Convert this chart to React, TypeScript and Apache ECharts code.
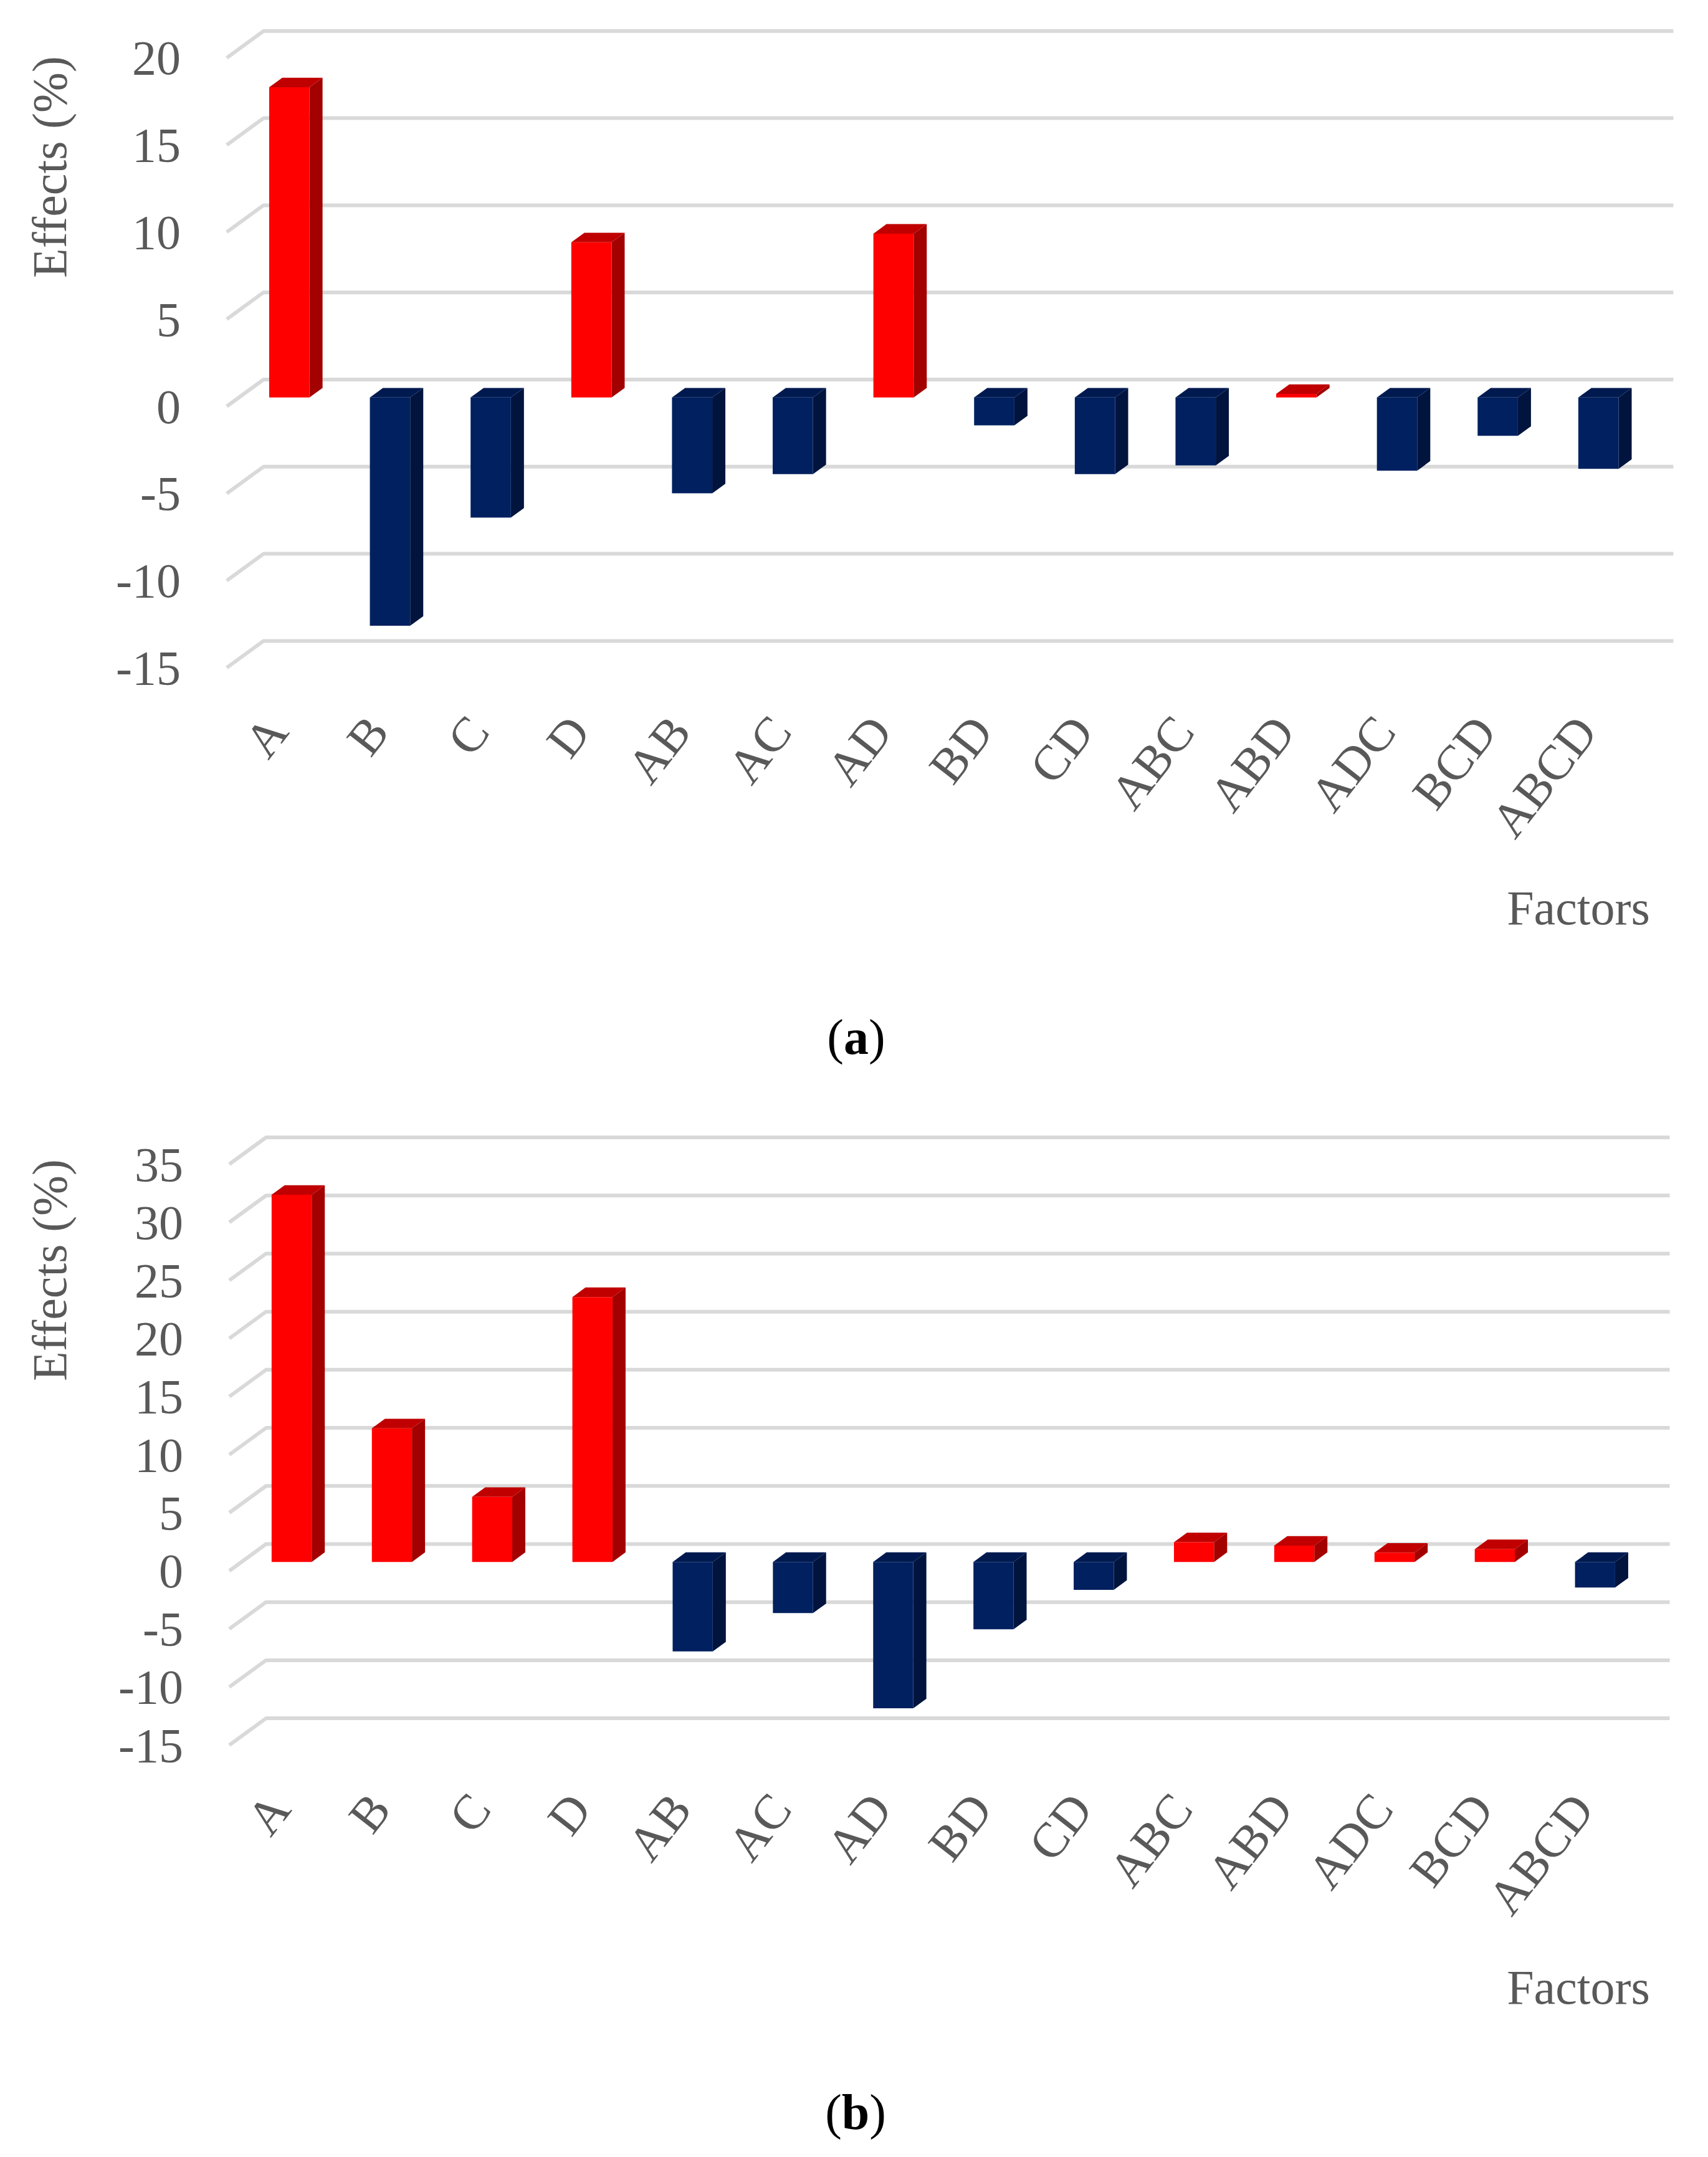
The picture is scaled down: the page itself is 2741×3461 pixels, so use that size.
import React, { useEffect, useRef } from "react";
import * as echarts from "echarts";

const categories = ["A", "B", "C", "D", "AB", "AC", "AD", "BD", "CD", "ABC", "ABD", "ADC", "BCD", "ABCD"];
const effectsA = [17.8, -13.1, -6.9, 8.9, -5.5, -4.4, 9.4, -1.6, -4.4, -3.9, 0.2, -4.2, -2.2, -4.1];
const effectsB = [31.6, 11.5, 5.6, 22.8, -7.7, -4.4, -12.6, -5.8, -2.4, 1.7, 1.4, 0.8, 1.1, -2.2];
const ticksA = [-15, -10, -5, 0, 5, 10, 15, 20];
const ticksB = [-15, -10, -5, 0, 5, 10, 15, 20, 25, 30, 35];

const FONT = "Liberation Serif";
const GREY = "#595959";
const GRID_COLOR = "#D9D9D9";
const BAR_FRAC = 0.4;
const BAR_DX = 21;
const BAR_DY = -15.3;
const BACK_DX = 39.4;
const BACK_DY = -28.7;
const FLOOR_DX = -19.6;
const FLOOR_DY = 14.3;

const POS = { front: "#FF0000", side: "#A30000", top: "#C00000" };
const NEG = { front: "#002060", side: "#00143E", top: "#001A50" };

function gridLinesSeries(ticks: number[], idx: number) {
  return {
    type: "custom",
    xAxisIndex: idx,
    yAxisIndex: idx,
    silent: true,
    clip: false,
    z: 1,
    data: ticks.map((v) => [0, v]),
    renderItem: (params: any, api: any) => {
      const v = api.value(1);
      const y = api.coord([0, v])[1];
      const cs = params.coordSys;
      const left = cs.x;
      const right = cs.x + cs.width;
      return {
        type: "polyline",
        shape: {
          points: [
            [left + FLOOR_DX, y + FLOOR_DY],
            [left + BACK_DX, y + BACK_DY],
            [right + BACK_DX, y + BACK_DY],
          ],
        },
        style: { stroke: GRID_COLOR, lineWidth: 6, fill: "none", lineJoin: "round" },
      };
    },
  };
}

function barsSeries(values: number[], idx: number) {
  return {
    type: "custom",
    xAxisIndex: idx,
    yAxisIndex: idx,
    silent: true,
    clip: false,
    z: 2,
    data: values.map((v, i) => [i, v]),
    renderItem: (params: any, api: any) => {
      const i = api.value(0);
      const v = api.value(1);
      const p0 = api.coord([i, 0]);
      const p1 = api.coord([i, v]);
      const bw = api.size([1, 0])[0] * BAR_FRAC;
      const xl = p0[0] - bw / 2;
      const xr = p0[0] + bw / 2;
      const yt = Math.min(p0[1], p1[1]);
      const yb = Math.max(p0[1], p1[1]);
      const c = v >= 0 ? POS : NEG;
      return {
        type: "group",
        children: [
          {
            type: "polygon",
            shape: { points: [[xr, yt], [xr + BAR_DX, yt + BAR_DY], [xr + BAR_DX, yb + BAR_DY], [xr, yb]] },
            style: { fill: c.side },
          },
          {
            type: "polygon",
            shape: { points: [[xl, yt], [xl + BAR_DX, yt + BAR_DY], [xr + BAR_DX, yt + BAR_DY], [xr, yt]] },
            style: { fill: c.top },
          },
          {
            type: "rect",
            shape: { x: xl, y: yt, width: bw, height: Math.max(yb - yt, 0.5) },
            style: { fill: c.front },
          },
        ],
      };
    },
  };
}

function rotTitle(text: string, x: number, y: number) {
  return {
    type: "text",
    x,
    y,
    rotation: Math.PI / 2,
    style: {
      text,
      fill: GREY,
      fontSize: 78,
      fontFamily: FONT,
      align: "center",
      verticalAlign: "middle",
      textAlign: "center",
      textVerticalAlign: "middle",
    },
  };
}

function plainText(text: string, x: number, y: number, color: string) {
  return {
    type: "text",
    x,
    y,
    style: {
      text,
      fill: color,
      fontSize: 78,
      fontFamily: FONT,
      align: "center",
      verticalAlign: "middle",
      textAlign: "center",
      textVerticalAlign: "middle",
      rich: {
        b: { fontWeight: "bold", fontSize: 80, fontFamily: FONT, fill: "#000000" },
        p: { fontWeight: "normal", fontSize: 80, fontFamily: FONT, fill: "#000000" },
      },
    },
  };
}

export default function App() {
  const ref = useRef<HTMLDivElement>(null);
  useEffect(() => {
    if (!ref.current) return;
    const chart = echarts.init(ref.current, undefined, { renderer: "svg" });
    const catAxisShown = (gridIndex: number) => ({
      type: "category",
      gridIndex,
      data: categories,
      axisLine: { show: false },
      axisTick: { show: false },
      splitLine: { show: false },
      axisLabel: { interval: 0, rotate: 52, margin: 88, fontSize: 79, fontFamily: FONT, color: GREY },
    });
    const catAxisHidden = (gridIndex: number) => ({
      type: "category",
      gridIndex,
      data: categories,
      show: false,
    });
    const valAxis = (gridIndex: number, min: number, max: number, showLabels: boolean) => ({
      type: "value",
      gridIndex,
      min,
      max,
      interval: 5,
      axisLine: { show: false },
      axisTick: { show: false },
      splitLine: { show: false },
      axisLabel: showLabels
        ? { show: true, margin: 74, fontSize: 78, fontFamily: FONT, color: GREY }
        : { show: false },
    });
    chart.setOption({
      animation: false,
      backgroundColor: "#FFFFFF",
      grid: [
        { left: 383.5, top: 78.5, width: 2262.5, height: 978.6 },
        { left: 383.5 + FLOOR_DX, top: 78.5 + FLOOR_DY, width: 2262.5, height: 978.6 },
        { left: 387.6, top: 1853.7, width: 2252.6, height: 932.1 },
        { left: 387.6 + FLOOR_DX, top: 1853.7 + FLOOR_DY, width: 2252.6, height: 932.1 },
      ],
      xAxis: [catAxisHidden(0), catAxisShown(1), catAxisHidden(2), catAxisShown(3)],
      yAxis: [
        valAxis(0, -15, 20, false),
        valAxis(1, -15, 20, true),
        valAxis(2, -15, 35, false),
        valAxis(3, -15, 35, true),
      ],
      series: [
        gridLinesSeries(ticksA, 0),
        barsSeries(effectsA, 0),
        gridLinesSeries(ticksB, 2),
        barsSeries(effectsB, 2),
      ],
      graphic: [
        rotTitle("Effects (%)", 79, 268),
        rotTitle("Effects (%)", 79, 2038),
        plainText("Factors", 2533, 1456, GREY),
        plainText("Factors", 2533, 3188, GREY),
        plainText("{p|(}{b|a}{p|)}", 1374, 1664, "#000000"),
        plainText("{p|(}{b|b}{p|)}", 1373, 3389, "#000000"),
      ],
    });
    return () => chart.dispose();
  }, []);
  return (
    <div
      ref={ref}
      style={{ position: "absolute", left: 0, top: 0, width: 2741, height: 3461, background: "#FFFFFF" }}
    />
  );
}
